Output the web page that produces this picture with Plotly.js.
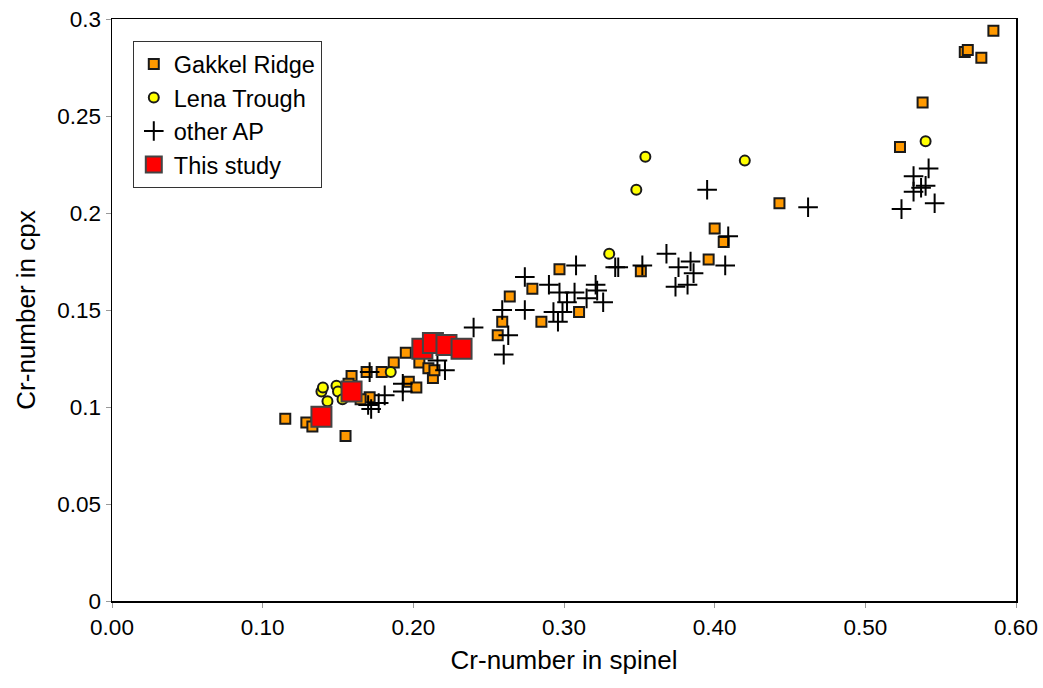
<!DOCTYPE html>
<html>
<head>
<meta charset="utf-8">
<script src="https://cdn.plot.ly/plotly-3.0.1.min.js"></script>
<style>html,body{margin:0;padding:0;background:#fff;}#chart{width:1043px;height:688px;}</style>
</head>
<body>
<div id="chart"></div>
<script>
// Gakkel Ridge
const gakkelX = [0.115,0.129,0.133,0.155,0.159,0.157,0.169,0.179,0.187,0.195,0.197,0.202,0.171,0.165,0.204,0.210,0.213,0.214,0.256,0.259,0.264,0.279,0.285,0.297,0.310,0.351,0.396,0.400,0.406,0.443,0.523,0.538,0.566,0.568,0.577,0.585];
const gakkelY = [0.094,0.092,0.090,0.085,0.116,0.112,0.118,0.118,0.123,0.128,0.113,0.110,0.105,0.104,0.123,0.120,0.115,0.119,0.137,0.144,0.157,0.161,0.144,0.171,0.149,0.170,0.176,0.192,0.185,0.205,0.234,0.257,0.283,0.284,0.280,0.294];
// Lena Trough
const lenaX = [0.139,0.140,0.143,0.149,0.150,0.153,0.185,0.330,0.348,0.354,0.420,0.540];
const lenaY = [0.108,0.110,0.103,0.111,0.108,0.104,0.118,0.179,0.212,0.229,0.227,0.237];
// other AP
const apX = [0.171,0.170,0.172,0.177,0.181,0.193,0.193,0.216,0.221,0.240,0.259,0.260,0.263,0.274,0.274,0.290,0.293,0.296,0.297,0.299,0.302,0.307,0.308,0.315,0.321,0.322,0.326,0.334,0.336,0.352,0.368,0.374,0.376,0.382,0.384,0.386,0.395,0.407,0.409,0.462,0.524,0.532,0.532,0.537,0.540,0.542,0.546];
const apY = [0.118,0.101,0.099,0.102,0.106,0.112,0.108,0.124,0.119,0.141,0.150,0.127,0.137,0.167,0.150,0.163,0.149,0.144,0.159,0.149,0.154,0.159,0.173,0.156,0.163,0.160,0.154,0.172,0.172,0.173,0.179,0.162,0.172,0.163,0.175,0.169,0.212,0.173,0.188,0.203,0.202,0.211,0.219,0.213,0.214,0.223,0.205];
// This study
const studyX = [0.139,0.159,0.206,0.213,0.222,0.232];
const studyY = [0.095,0.108,0.130,0.133,0.132,0.130];

const FONT = 'Liberation Sans, Arial, sans-serif';
const traces = [
  {x: gakkelX, y: gakkelY, name: 'Gakkel Ridge', type: 'scatter', mode: 'markers',
   marker: {symbol: 'square', size: 10, color: '#FF9900', line: {color: '#1a1a1a', width: 2}}},
  {x: lenaX, y: lenaY, name: 'Lena Trough', type: 'scatter', mode: 'markers',
   marker: {symbol: 'circle', size: 10, color: '#FFFF00', line: {color: '#1a1a1a', width: 2}}},
  {x: apX, y: apY, name: 'other AP', type: 'scatter', mode: 'markers',
   marker: {symbol: 'cross-thin-open', size: 14, color: '#000', line: {color: '#000', width: 2}}},
  {x: studyX, y: studyY, name: 'This study', type: 'scatter', mode: 'markers',
   marker: {symbol: 'square', size: 20, color: '#FF0000', line: {color: '#444', width: 2}}}
];

const layout = {
  width: 1043, height: 688,
  margin: {l: 112, r: 27, t: 19, b: 87},
  paper_bgcolor: '#fff', plot_bgcolor: '#fff',
  font: {family: FONT, size: 22, color: '#000'},
  showlegend: true,
  legend: {x: 0.023, y: 0.962, xanchor: 'left', yanchor: 'top', bgcolor: '#fff',
           bordercolor: '#333', borderwidth: 1, font: {family: FONT, size: 23.5, color: '#000'},
           itemsizing: 'trace', tracegroupgap: 0},
  xaxis: {range: [0, 0.6], dtick: 0.1, tickformat: '.2f', showgrid: false, zeroline: false,
          showline: true, linecolor: '#000', linewidth: 1.5, mirror: true,
          ticks: 'outside', ticklen: 5, tickcolor: '#999',
          tickfont: {family: FONT, size: 22.5, color: '#000'},
          title: {text: 'Cr-number in spinel', font: {family: FONT, size: 26, color: '#000'}, standoff: 12}},
  yaxis: {range: [0, 0.3], dtick: 0.05, showgrid: false, zeroline: false,
          showline: true, linecolor: '#000', linewidth: 1.5, mirror: true,
          ticks: 'outside', ticklen: 5, tickcolor: '#999',
          tickfont: {family: FONT, size: 22.5, color: '#000'},
          title: {text: 'Cr-number in cpx', font: {family: FONT, size: 26, color: '#000'}, standoff: 14}}
};

Plotly.newPlot('chart', traces, layout, {displayModeBar: false, staticPlot: true});
</script>
</body>
</html>
